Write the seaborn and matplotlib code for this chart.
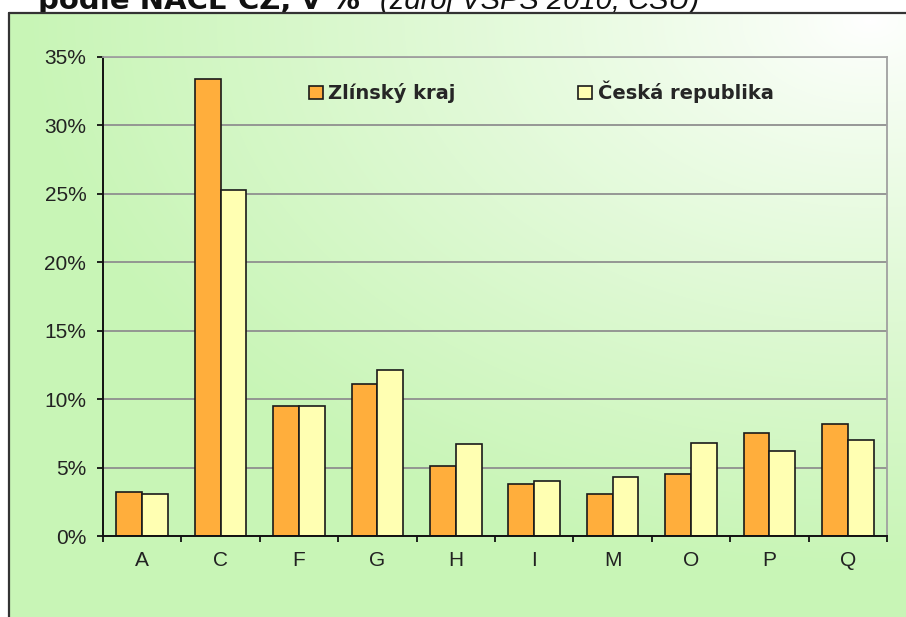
import numpy as np
import pandas as pd
import matplotlib
matplotlib.use("Agg")
import matplotlib.pyplot as plt
import seaborn as sns

categories = ["A", "C", "F", "G", "H", "I", "M", "O", "P", "Q"]
zlin = [3.2, 33.4, 9.5, 11.1, 5.1, 3.8, 3.1, 4.5, 7.5, 8.2]
cr = [3.1, 25.3, 9.5, 12.1, 6.7, 4.0, 4.3, 6.8, 6.2, 7.0]
series_names = ["Zlínský kraj", "Česká republika"]
yticks = [0, 5, 10, 15, 20, 25, 30, 35]

df = pd.DataFrame({
    "kat": categories * 2,
    "val": zlin + cr,
    "serie": [series_names[0]] * len(categories) + [series_names[1]] * len(categories),
})

sns.set_theme(style="white")
plt.rcParams["font.family"] = ["Liberation Sans", "DejaVu Sans"]

W, H = 906, 617
fig = plt.figure(figsize=(W / 100, H / 100), dpi=100)
fig.patch.set_facecolor("white")

# background gradient (chart area)
bg = fig.add_axes([0, 0, 1, 1], zorder=-10)
bg.patch.set_alpha(0)
yy, xx = np.mgrid[0:H, 0:W]
t = np.sqrt(((xx - 870) / 850.0) ** 2 + ((yy - 20) / 550.0) ** 2)
t = np.clip(t, 0, 1) ** 0.85
green = np.array([200, 245, 182]) / 255.0
white = np.array([1.0, 1.0, 1.0])
rgb = white[None, None, :] * (1 - t[..., None]) + green[None, None, :] * t[..., None]
alpha = np.ones((H, W, 1))
mask = (xx < 9) | (yy < 13)
alpha[mask] = 0.0
img = np.concatenate([rgb, alpha], axis=2)
bg.imshow(img, extent=[0, W, H, 0], aspect="auto", interpolation="nearest")
bg.plot([9, 9], [13, H + 5], color="#333333", lw=1.6)
bg.plot([9, W + 5], [13, 13], color="#333333", lw=1.6)
bg.set_xlim(0, W)
bg.set_ylim(H, 0)
bg.axis("off")

ax = fig.add_axes([103 / W, 1 - 536 / H, (887 - 103) / W, (536 - 57) / H])
ax.set_facecolor("none")

sns.barplot(data=df, x="kat", y="val", hue="serie", order=categories,
            hue_order=series_names, palette=["#FFAE3C", "#FFFFB2"],
            width=0.66, edgecolor="#1a1a1a", linewidth=1.2, saturation=1,
            ax=ax, legend=True)

ax.set_xlim(-0.5, len(categories) - 0.5)
ax.set_ylim(0, 35)
ax.set_yticks(yticks)
ax.set_yticklabels([f"{v}%" for v in yticks])
ax.set_xlabel("")
ax.set_ylabel("")

ax.yaxis.grid(True, color="#8f8f8f", lw=1.3)
ax.xaxis.grid(False)
ax.set_axisbelow(True)

for s in ["left", "bottom"]:
    ax.spines[s].set_color("#111111")
    ax.spines[s].set_linewidth(1.4)
for s in ["right", "top"]:
    ax.spines[s].set_color("#a0a0a0")
    ax.spines[s].set_linewidth(1.3)

ax.tick_params(axis="y", which="major", left=True, length=4, width=1.3,
               color="#111111", pad=8, labelsize=15, labelcolor="#222222")
ax.tick_params(axis="x", which="major", bottom=False, length=0, pad=11,
               labelsize=15, labelcolor="#222222")
ax.set_xticks(np.arange(-0.5, len(categories), 1.0), minor=True)
ax.tick_params(axis="x", which="minor", bottom=True, length=4, width=1.3,
               color="#111111")

handles, labels = ax.get_legend_handles_labels()
if ax.legend_:
    ax.legend_.remove()
leg = fig.legend(handles, labels, loc="center left",
                 bbox_to_anchor=(309 / W, 1 - 92 / H), bbox_transform=fig.transFigure,
                 ncol=2, frameon=False, borderpad=0, borderaxespad=0,
                 handlelength=0.7, handleheight=0.7, handletextpad=0.3,
                 columnspacing=6.3,
                 prop={"family": "DejaVu Sans", "weight": "bold", "size": 14})
for h in leg.legend_handles:
    h.set_edgecolor("#1a1a1a")
    h.set_linewidth(1.2)

# title, cut at the top edge and hidden below the chart box
fig.text(38 / W, 1 - 9 / H, "podle NACE CZ, v %", family="DejaVu Sans",
         weight="bold", fontsize=21, va="baseline", ha="left", color="#111111",
         zorder=-20)
fig.text(380 / W, 1 - 9 / H, "(zdroj VŠPS 2010, ČSÚ)", family="Liberation Sans",
         style="italic", fontsize=21, va="baseline", ha="left", color="#111111",
         zorder=-20)

fig.savefig("out.png", dpi=100)
